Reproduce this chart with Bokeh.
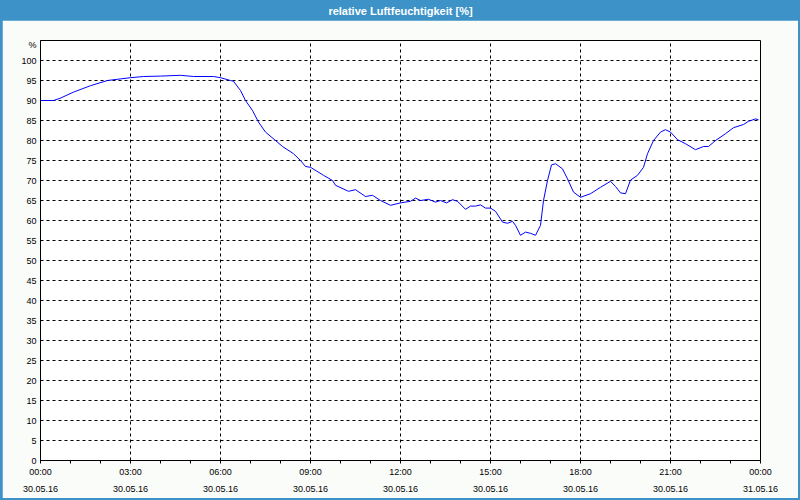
from bokeh.plotting import figure
from bokeh.models import Range1d, FixedTicker, ColumnDataSource
from bokeh.layouts import column
from bokeh.core.properties import value
from bokeh.embed import file_html
from bokeh.resources import INLINE

TITLE = "relative Luftfeuchtigkeit [%]"

times = ["00:00", "00:26", "00:40", "01:06", "01:40", "02:14", "02:40", "03:00", "03:26", "04:00",
         "04:40", "05:06", "05:46", "06:00", "06:20", "06:26", "06:40", "06:50", "07:04", "07:16",
         "07:30", "07:50", "08:04", "08:26", "08:40", "08:50", "09:00", "09:26", "09:44", "09:50",
         "10:16", "10:30", "10:50", "11:04", "11:20", "11:40", "12:00", "12:20", "12:30", "12:40",
         "12:56", "13:10", "13:20", "13:32", "13:44", "13:54", "14:10", "14:20", "14:30", "14:40",
         "14:50", "15:00", "15:10", "15:24", "15:34", "15:44", "15:50", "16:00", "16:10", "16:20",
         "16:30", "16:40", "16:46", "16:54", "17:02", "17:10", "17:24", "17:34", "17:46", "18:00",
         "18:20", "18:40", "19:00", "19:10", "19:20", "19:30", "19:40", "19:54", "20:06", "20:14",
         "20:26", "20:40", "20:50", "21:00", "21:14", "21:30", "21:50", "22:06", "22:16", "22:30",
         "22:50", "23:06", "23:26", "23:36", "23:50", "23:56"]
rh = [90.0, 90.0, 90.6, 92.1, 93.7, 95.0, 95.4, 95.7, 96.0, 96.1,
      96.3, 96.0, 96.0, 95.7, 95.0, 94.8, 92.5, 90.0, 87.5, 84.6,
      82.1, 80.0, 78.5, 76.7, 75.0, 73.5, 73.3, 71.3, 70.0, 68.8,
      67.3, 67.7, 66.0, 66.3, 65.0, 63.8, 64.4, 64.8, 65.6, 65.0,
      65.3, 64.6, 65.0, 64.4, 65.2, 64.8, 62.8, 63.6, 63.6, 63.9,
      63.1, 63.1, 62.3, 59.6, 59.3, 59.8, 58.8, 56.3, 57.1, 56.8,
      56.3, 58.8, 65.0, 70.0, 73.9, 74.2, 72.9, 70.4, 67.1, 65.8,
      66.7, 68.3, 69.8, 68.5, 66.9, 66.7, 70.1, 71.3, 73.3, 76.7,
      80.0, 82.1, 82.7, 82.1, 80.2, 79.2, 77.7, 78.5, 78.5, 80.0,
      81.7, 83.2, 84.0, 84.8, 85.4, 85.2]

x_label_hours = [0, 3, 6, 9, 12, 15, 18, 21, 24]
x_label_times = ["00:00", "03:00", "06:00", "09:00", "12:00", "15:00", "18:00", "21:00", "00:00"]
x_label_dates = ["30.05.16"] * 8 + ["31.05.16"]
y_ticks = list(range(0, 101, 5))
y_unit = "%"

hours = [int(t[:2]) + int(t[3:]) / 60.0 for t in times]
src = ColumnDataSource(dict(h=hours, rh=rh))

BLUE = "#3d93c8"
BG = "#fafcfa"
FONT = "Liberation Sans"

# title bar
tfig = figure(width=800, height=20, x_range=Range1d(0, 800), y_range=Range1d(0, 20),
              output_backend="svg", toolbar_location=None, min_border=0,
              x_axis_location=None, y_axis_location=None,
              background_fill_color=BLUE, border_fill_color=BLUE, outline_line_color=None)
tfig.grid.visible = False
tfig.text(x=[400], y=[10], text=[TITLE], text_align="center", text_baseline="middle",
          text_color="white", text_font=value(FONT), text_font_style="bold",
          text_font_size="11px")

p = figure(width=796, height=478, x_range=Range1d(0, 24), y_range=Range1d(0, 105),
           output_backend="svg", toolbar_location=None,
           min_border_left=38, min_border_right=38, min_border_top=20, min_border_bottom=38,
           background_fill_color="white", border_fill_color=BG,
           outline_line_color="black", outline_line_width=1)
p.margin = (0, 2, 2, 2)

p.line("h", "rh", source=src, color="#0000ff", line_width=1)

p.xgrid.ticker = FixedTicker(ticks=x_label_hours[1:-1])
p.ygrid.ticker = FixedTicker(ticks=y_ticks[1:])
for g in (p.xgrid, p.ygrid):
    g.grid_line_color = "black"
    g.grid_line_dash = "3 3"
    g.grid_line_width = 1

xa = p.xaxis[0]
xa.ticker = FixedTicker(ticks=list(range(0, 25)))
overrides = {h: "" for h in range(0, 25)}
for h, t, d in zip(x_label_hours, x_label_times, x_label_dates):
    overrides[h] = t + "\n" + d
xa.major_label_overrides = overrides
xa.major_tick_in = 0
xa.major_tick_out = 3
xa.minor_tick_line_color = None
xa.major_label_standoff = 3
xa.major_label_text_line_height = 1.7

ya = p.yaxis[0]
ya.ticker = FixedTicker(ticks=y_ticks + [104])
ya.major_label_overrides = {104: y_unit}
ya.major_tick_line_color = None
ya.major_tick_in = 0
ya.major_tick_out = 0
ya.minor_tick_line_color = None
ya.major_label_standoff = 4

for ax in (xa, ya):
    ax.axis_line_color = "black"
    ax.major_label_text_font = FONT
    ax.major_label_text_font_size = "9px"
    ax.major_label_text_color = "black"

layout = column(tfig, p, styles={"background-color": BLUE})

open("out.html", "w").write(file_html(layout, INLINE))
